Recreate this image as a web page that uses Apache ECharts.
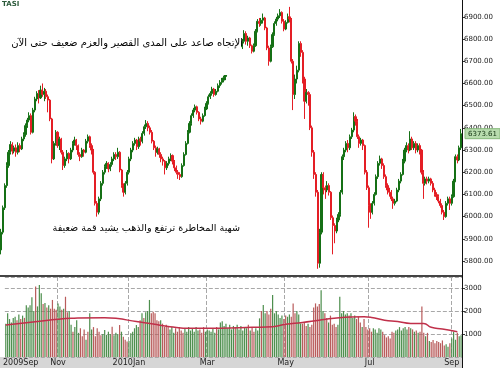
<!DOCTYPE html>
<html><head><meta charset="utf-8">
<script src="https://cdn.jsdelivr.net/npm/echarts@6/dist/echarts.min.js"></script>
<style>html,body{margin:0;padding:0;background:#fff}#c{width:500px;height:368px}</style>
</head><body><div id="c"></div><script>
// [open, close, low, high]
const ohlc = [
[5850,5930,5830,5945],[5930,6040,5920,6050],[6040,6140,6030,6150],[6140,6230,6130,6245],[6230,6290,6220,6300],
[6290,6325,6280,6340],[6325,6295,6280,6335],[6295,6310,6285,6320],[6310,6290,6270,6325],[6290,6320,6280,6335],
[6320,6305,6290,6330],[6305,6350,6300,6360],[6350,6370,6340,6380],[6370,6410,6360,6420],[6410,6435,6400,6445],
[6435,6455,6425,6470],[6455,6380,6370,6465],[6380,6480,6375,6490],[6480,6530,6470,6540],[6530,6555,6520,6565],
[6555,6535,6510,6570],[6535,6570,6530,6590],[6570,6550,6540,6600],[6550,6565,6520,6580],[6565,6540,6530,6575],
[6540,6525,6470,6550],[6525,6440,6430,6530],[6440,6260,6240,6445],[6260,6330,6255,6340],[6330,6380,6320,6390],
[6380,6320,6310,6385],[6320,6350,6300,6360],[6350,6290,6280,6355],[6290,6230,6210,6300],[6230,6260,6220,6270],
[6260,6285,6250,6300],[6285,6260,6240,6290],[6260,6300,6255,6310],[6300,6330,6290,6340],[6330,6345,6320,6360],
[6345,6320,6300,6350],[6320,6280,6270,6325],[6280,6270,6250,6290],[6270,6300,6265,6310],[6300,6290,6270,6305],
[6290,6340,6285,6350],[6340,6360,6330,6370],[6360,6320,6310,6365],[6320,6300,6280,6330],[6300,6200,6190,6305],
[6200,6060,6050,6205],[6060,6020,6000,6070],[6020,6080,6010,6090],[6080,6150,6070,6160],[6150,6200,6140,6210],
[6200,6225,6190,6235],[6225,6240,6215,6250],[6240,6215,6200,6245],[6215,6235,6205,6245],[6235,6260,6225,6270],
[6260,6280,6250,6290],[6280,6270,6255,6290],[6270,6290,6260,6310],[6290,6210,6200,6295],[6210,6140,6130,6215],
[6140,6110,6090,6150],[6110,6150,6100,6160],[6150,6200,6140,6210],[6200,6260,6190,6270],[6260,6300,6250,6310],
[6300,6330,6290,6340],[6330,6345,6320,6355],[6345,6315,6300,6350],[6315,6350,6305,6360],[6350,6340,6320,6360],
[6340,6375,6330,6385],[6375,6405,6365,6415],[6405,6420,6395,6435],[6420,6400,6385,6430],[6400,6380,6370,6410],
[6380,6340,6330,6390],[6340,6310,6300,6345],[6310,6290,6270,6320],[6290,6305,6280,6315],[6305,6280,6265,6310],
[6280,6260,6245,6290],[6260,6250,6230,6270],[6250,6220,6190,6255],[6220,6240,6210,6250],[6240,6260,6230,6270],
[6260,6275,6250,6285],[6275,6250,6235,6280],[6250,6220,6205,6255],[6220,6200,6190,6230],[6200,6190,6170,6210],
[6190,6180,6165,6200],[6180,6230,6175,6240],[6230,6280,6225,6290],[6280,6330,6275,6340],[6330,6380,6325,6390],
[6380,6420,6375,6430],[6420,6455,6410,6465],[6455,6480,6445,6490],[6480,6495,6470,6505],[6495,6470,6460,6500],
[6470,6440,6430,6475],[6440,6430,6415,6450],[6430,6455,6425,6465],[6455,6485,6450,6495],[6485,6510,6480,6520],
[6510,6540,6505,6550],[6540,6555,6530,6565],[6555,6575,6545,6585],[6575,6550,6540,6580],[6550,6565,6545,6575],
[6565,6590,6560,6600],[6590,6605,6580,6615],[6605,6615,6595,6625],[6615,6625,6605,6635],[6625,6640,6615,6650],
[6640,6655,6630,6665],[6655,6670,6645,6680],[6670,6690,6660,6700],[6690,6680,6665,6700],[6680,6700,6675,6710],
[6700,6720,6690,6730],[6720,6745,6710,6755],[6745,6765,6735,6775],[6765,6790,6755,6800],[6790,6825,6780,6840],
[6825,6790,6775,6835],[6790,6805,6770,6815],[6805,6770,6760,6810],[6770,6745,6735,6775],[6745,6770,6740,6780],
[6770,6835,6765,6845],[6835,6880,6830,6890],[6880,6870,6855,6895],[6870,6885,6860,6895],[6885,6895,6870,6915],
[6895,6850,6840,6900],[6850,6760,6750,6855],[6760,6700,6680,6770],[6700,6765,6695,6775],[6765,6820,6760,6830],
[6820,6870,6815,6880],[6870,6890,6860,6900],[6890,6905,6880,6915],[6905,6920,6895,6935],[6920,6880,6870,6925],
[6880,6845,6835,6890],[6845,6875,6840,6885],[6875,6900,6870,6915],[6900,6890,6875,6945],[6890,6700,6690,6895],
[6700,6550,6480,6710],[6550,6620,6530,6640],[6620,6660,6600,6680],[6660,6780,6650,6790],[6780,6740,6720,6790],
[6740,6620,6600,6750],[6620,6520,6440,6630],[6520,6560,6510,6575],[6560,6550,6500,6565],[6550,6400,6390,6560],
[6400,6290,6270,6410],[6290,6190,6170,6300],[6190,6110,6090,6200],[6110,5790,5765,6120],[5790,5930,5770,5945],
[5930,6190,5920,6200],[6190,6130,6100,6200],[6130,6120,6080,6140],[6120,6140,6110,6160],[6140,6110,6095,6150],
[6110,5995,5985,6115],[5995,5960,5830,6005],[5960,5935,5880,5970],[5935,5985,5925,5995],[5985,6010,5975,6020],
[6010,6110,6000,6120],[6110,6270,6100,6280],[6270,6300,6255,6310],[6300,6330,6290,6340],[6330,6310,6290,6345],
[6310,6360,6300,6370],[6360,6390,6350,6400],[6390,6450,6380,6470],[6450,6430,6410,6460],[6430,6360,6350,6440],
[6360,6330,6310,6370],[6330,6345,6320,6355],[6345,6320,6300,6350],[6320,6200,6190,6325],[6200,6130,6120,6210],
[6130,6050,5950,6140],[6050,6020,5990,6060],[6020,6060,6010,6070],[6060,6100,6050,6110],[6100,6180,6095,6190],
[6180,6240,6170,6250],[6240,6260,6230,6275],[6260,6230,6215,6265],[6230,6180,6170,6240],[6180,6140,6130,6190],
[6140,6120,6100,6150],[6120,6110,6090,6130],[6110,6080,6070,6120],[6080,6060,6035,6090],[6060,6070,6050,6080],
[6070,6120,6065,6130],[6120,6160,6110,6170],[6160,6190,6150,6200],[6190,6250,6185,6260],[6250,6300,6240,6310],
[6300,6320,6290,6335],[6320,6300,6285,6330],[6300,6350,6295,6385],[6350,6310,6300,6360],[6310,6330,6300,6340],
[6330,6300,6285,6340],[6300,6320,6290,6330],[6320,6300,6280,6330],[6300,6200,6190,6305],[6200,6150,6080,6210],
[6150,6170,6140,6180],[6170,6160,6145,6180],[6160,6170,6150,6180],[6170,6150,6140,6175],[6150,6120,6110,6160],
[6120,6100,6090,6130],[6100,6090,6075,6110],[6090,6070,6060,6100],[6070,6050,6040,6080],[6050,6020,6010,6060],
[6020,6000,5985,6030],[6000,6060,5995,6070],[6060,6080,6050,6090],[6080,6060,6030,6090],[6060,6090,6050,6100],
[6090,6160,6085,6170],[6160,6270,6155,6280],[6270,6255,6240,6280],[6255,6310,6250,6320],[6310,6373.61,6300,6395]
];
const volume = [
1450,1900,1650,1500,1700,1750,1600,1850,1650,1800,1700,2250,2150,2250,2600,2000,3060,2200,3130,2770,
2300,2350,2150,2250,2100,2480,2100,2050,2330,2200,2050,2100,2620,1950,2000,1400,1100,1300,1600,1050,
1250,900,1200,750,1100,1900,1200,1300,900,1250,1100,950,1000,1170,960,1100,1000,1320,950,1050,
1000,1390,1100,880,750,670,700,1030,1100,1250,1390,1300,1600,1900,1700,1950,2000,2480,1900,1970,
1900,1600,1550,1600,1450,1300,1400,1350,1200,1300,1050,1250,1100,1300,1150,1050,1250,1100,1300,1150,
1250,1100,1300,1150,1200,1050,1300,1100,1200,1150,1100,1250,1050,1300,1200,1500,1550,1350,1450,1250,
1400,1200,1350,1300,1400,1200,1350,1150,1300,1250,1400,1150,1300,1100,1250,1150,1680,2000,2260,1900,
2000,1850,2100,2700,1900,2000,1850,1700,1800,1650,1800,1750,1850,1750,2330,1900,2000,1850,1460,1450,
1500,1350,1450,1300,1400,2150,2330,2200,2300,2900,2000,1900,1700,1500,1800,1400,1450,1300,1400,2620,
1900,2000,1850,1900,1800,1900,1700,1800,1650,1750,1500,1300,1650,1300,1200,1250,1100,1250,1200,1050,
1250,1200,1100,950,850,900,800,1100,1050,1150,1200,1300,1150,1250,1300,1200,1300,1250,1200,1100,
1150,1050,1100,2200,1050,900,1050,700,650,740,600,700,650,600,720,500,550,450,600,800,
1100,750,1050,900,950
];
// volume moving-average line: [day index, value]
const volMA = [[0,1390],[17,1540],[28,1640],[35,1680],[53,1710],[59,1680],[70,1540],[79,1430],[88,1320],
[99,1250],[115,1250],[132,1290],[143,1320],[150,1420],[159,1500],[168,1600],[176,1680],[185,1740],[192,1750],
[196,1720],[203,1600],[210,1540],[217,1460],[224,1460],[228,1290],[234,1220],[242,1100]];
const priceTicks = [5800,5900,6000,6100,6200,6300,6400,6500,6600,6700,6800,6900];
const monthLabels = {8:'2009Sep',28:'Nov',66:'2010Jan',108:'Mar',150:'May',195:'Jul',239:'Sep'};
const monthStarts = [28,66,108,150,195,239];
const days = ohlc.map((d, i) => String(i));
const noteTop = 'الإتجاه صاعد على المدى القصير والعزم ضعيف حتى الآن';
const noteBottom = 'شهية المخاطرة ترتفع والذهب يشيد قمة ضعيفة';
const title = 'TASI';

const UP = '#157015', DOWN = '#e41e25', VUP = '#4e8f4e', VDOWN = '#b95c5c';
const FONT = 'DejaVu Sans';

// pick a font size so that a note spans the width it has in the picture
function fitSize(text, target) {
  const ctx = document.createElement('canvas').getContext('2d');
  ctx.font = '20px "' + FONT + '"';
  const w = ctx.measureText(text).width;
  return Math.round(20 * target / w * 10) / 10;
}
const sTop = fitSize(noteTop, 231);
const sBot = fitSize(noteBottom, 187);

const chart = echarts.init(document.getElementById('c'), null, {renderer: 'canvas'});
chart.setOption({
  animation: false,
  backgroundColor: '#fff',
  grid: [
    {left: 0, top: 0, width: 462, height: 275},
    {left: 0, top: 277, width: 462, height: 80}
  ],
  xAxis: [
    {type: 'category', gridIndex: 0, data: days, show: false, boundaryGap: true},
    {type: 'category', gridIndex: 1, data: days, boundaryGap: true,
     axisLine: {show: false}, axisTick: {show: false},
     axisLabel: {interval: (i) => monthLabels[i] !== undefined, formatter: (v, i) => monthLabels[i] || '',
       fontSize: 8, fontFamily: FONT, color: '#222', margin: 2},
     splitLine: {show: true, interval: (i) => monthStarts.indexOf(i) >= 0,
       lineStyle: {type: 'dashed', color: '#a8a8a8', width: 1}}}
  ],
  yAxis: [
    {type: 'value', gridIndex: 0, position: 'right', min: 5737, max: 6976, scale: true,
     axisLine: {show: false}, splitLine: {show: false},
     axisTick: {show: true, length: 3, customValues: priceTicks, lineStyle: {color: '#333'}},
     axisLabel: {customValues: priceTicks, formatter: (v) => v.toFixed(2), fontSize: 7, fontFamily: FONT, color: '#222', margin: 2}},
    {type: 'value', gridIndex: 1, position: 'right', min: 0, max: 3478, interval: 1000,
     axisLine: {show: false},
     axisTick: {show: true, length: 3, lineStyle: {color: '#333'}},
     axisLabel: {showMinLabel: false, showMaxLabel: false, formatter: (v) => String(v),
       fontSize: 7, fontFamily: FONT, color: '#222', margin: 2},
     splitLine: {show: true, lineStyle: {type: 'dashed', color: '#a8a8a8'}}}
  ],
  series: [
    {type: 'candlestick', xAxisIndex: 0, yAxisIndex: 0, data: ohlc, barWidth: '85%',
     itemStyle: {color: UP, color0: DOWN, borderColor: UP, borderColor0: DOWN, borderWidth: 1}},
    {type: 'bar', xAxisIndex: 1, yAxisIndex: 1, barWidth: '65%',
     data: volume.map((v, i) => ({value: v, itemStyle: {color: ohlc[i][1] >= ohlc[i][0] ? VUP : VDOWN}}))},
    {type: 'line', xAxisIndex: 1, yAxisIndex: 1, data: volMA, smooth: 0.5, symbol: 'none',
     lineStyle: {color: '#c0304a', width: 1.5}, z: 5}
  ]
});

const last = ohlc[ohlc.length - 1][1];
const py = chart.convertToPixel({yAxisIndex: 0}, last);
chart.setOption({
  graphic: [
    {type: 'rect', id: 'strip', z: -1, shape: {x: 0, y: 357, width: 463, height: 11}, style: {fill: '#d6d6d6'}},
    {type: 'line', id: 'sep', z: 20, shape: {x1: 0, y1: 276, x2: 463, y2: 276}, style: {stroke: '#444', lineWidth: 2}},
    {type: 'line', id: 'axis', z: 20, shape: {x1: 462.5, y1: 0, x2: 462.5, y2: 368}, style: {stroke: '#111', lineWidth: 1}},
    {type: 'rect', id: 'box', z: 50, shape: {x: 5, y: 26, width: 236, height: 49}, style: {fill: '#fff'}},
    {type: 'text', id: 't1', z: 51, style: {text: noteTop, x: 243, y: 43, align: 'right', verticalAlign: 'middle',
      font: sTop + 'px "' + FONT + '"', fill: '#000'}},
    {type: 'text', id: 't2', z: 51, style: {text: noteBottom, x: 240, y: 228, align: 'right', verticalAlign: 'middle',
      font: sBot + 'px "' + FONT + '"', fill: '#000'}},
    {type: 'text', id: 'ttl', z: 51, style: {text: title, x: 2, y: 1, align: 'left', verticalAlign: 'top',
      font: 'bold 7px "' + FONT + '"', fill: '#2b5a3a'}},
    {type: 'rect', id: 'tagbg', z: 60, shape: {x: 465, y: py - 5, width: 35, height: 10},
      style: {fill: '#b8dcae', stroke: '#86b97a', lineWidth: 1}},
    {type: 'text', id: 'tag', z: 61, style: {text: last.toFixed(2), x: 482.5, y: py, align: 'center', verticalAlign: 'middle',
      font: '7px "' + FONT + '"', fill: '#123312'}}
  ]
});
</script></body></html>
